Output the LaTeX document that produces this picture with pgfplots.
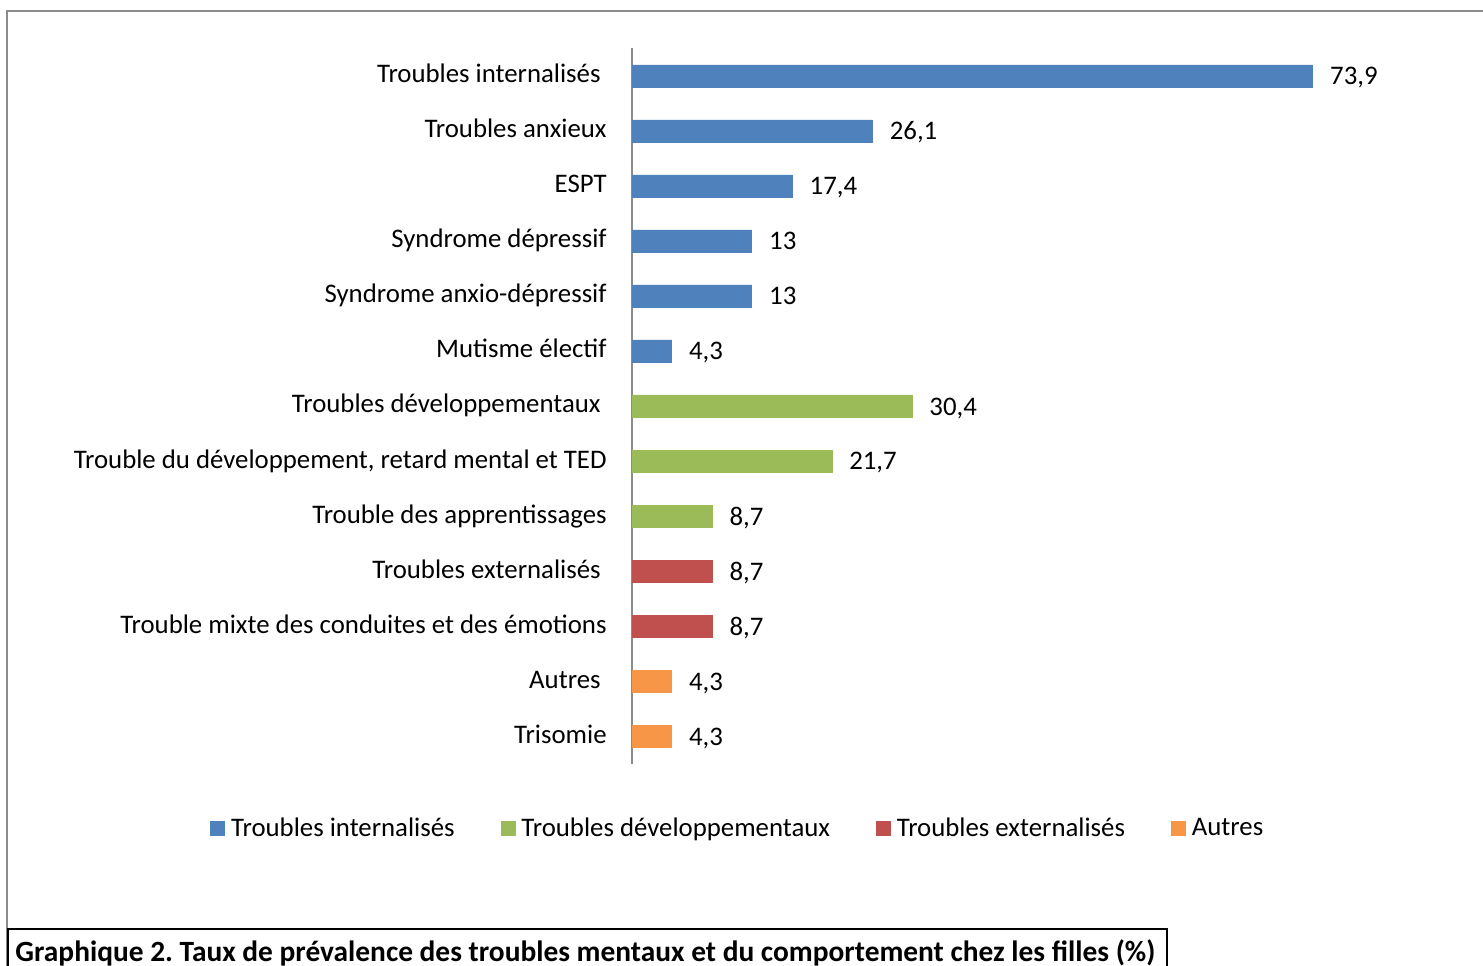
\documentclass[border=0pt]{standalone}
\usepackage{pgfplots}
\pgfplotsset{compat=1.18}
\usepackage{fontspec}
\setmainfont{Carlito}

\definecolor{cblue}{HTML}{4F81BD}
\definecolor{cgreen}{HTML}{9BBB59}
\definecolor{cred}{HTML}{C0504D}
\definecolor{corange}{HTML}{F79646}
\definecolor{frame}{HTML}{8C8C8C}

\newcommand{\trail}{\rule{3pt}{0pt}}

\begin{document}
\begin{tikzpicture}
% 1 px of the reference = 0.5pt
\useasboundingbox (0pt,0pt) rectangle (741.5pt,482.5pt);
\clip (0pt,0pt) rectangle (741.5pt,482.5pt);
\draw[frame, line width=1pt] (3.5pt,-5pt) -- (3.5pt,477pt) -- (745pt,477pt);

\begin{axis}[
    at={(316pt,100.75pt)}, anchor=south west,
    scale only axis,
    width=368.5pt, height=357.5pt,
    xbar, bar width=11pt, bar shift=0pt,
    xmin=0, xmax=80,
    ymin=-0.5, ymax=12.5,
    axis x line=none,
    axis y line=left,
    axis line style={-, frame, line width=0.75pt},
    ytick={0,...,12},
    yticklabels={Trisomie,Autres\trail,Trouble mixte des conduites et des émotions,Troubles externalisés\trail,Trouble des apprentissages,{Trouble du développement, retard mental et TED},Troubles développementaux\trail,Mutisme électif,Syndrome anxio-dépressif,Syndrome dépressif,ESPT,Troubles anxieux,Troubles internalisés\trail},
    major tick length=0pt,
    yticklabel style={font=\fontsize{13.4}{16}\selectfont, inner sep=0pt, anchor=base east, xshift=-12.5pt, yshift=-3.5pt},
    nodes near coords,
    /pgf/number format/use comma,
    /pgf/number format/assume math mode=true,
    every node near coord/.append style={font=\fontsize{13.4}{16}\selectfont, anchor=base west, inner sep=0pt, xshift=8.5pt, yshift=-4.5pt, black},
    legend columns=4,
    legend style={draw=none, fill=none, inner sep=0pt,
        font=\fontsize{13.4}{16}\selectfont,
        at={(rel axis cs:-0.5726,-0.0912)}, anchor=west,
        /tikz/every even column/.append style={column sep=21pt}},
    legend image code/.code={\fill[#1] (0pt,-3.5pt) rectangle (7pt,3.5pt); \path (8pt,0pt);},
]
\addplot[fill=cblue, draw=cblue] coordinates {(73.9,12) (26.1,11) (17.4,10) (13,9) (13,8) (4.3,7)};
\addplot[fill=cgreen, draw=cgreen] coordinates {(30.4,6) (21.7,5) (8.7,4)};
\addplot[fill=cred, draw=cred] coordinates {(8.7,3) (8.7,2)};
\addplot[fill=corange, draw=corange] coordinates {(4.3,1) (4.3,0)};
\legend{Troubles internalisés, Troubles développementaux, Troubles externalisés, Autres}
\end{axis}

\draw[line width=1pt] (4pt,-12pt) -- (4pt,18pt) -- (583.5pt,18pt) -- (583.5pt,-12pt);
\node[anchor=base west, inner sep=0pt, font=\fontsize{14.7}{17}\selectfont\bfseries] at (7.5pt,1.75pt) {\frenchspacing Graphique 2. Taux de prévalence des troubles mentaux et du comportement chez les filles (\%)};
\end{tikzpicture}
\end{document}
